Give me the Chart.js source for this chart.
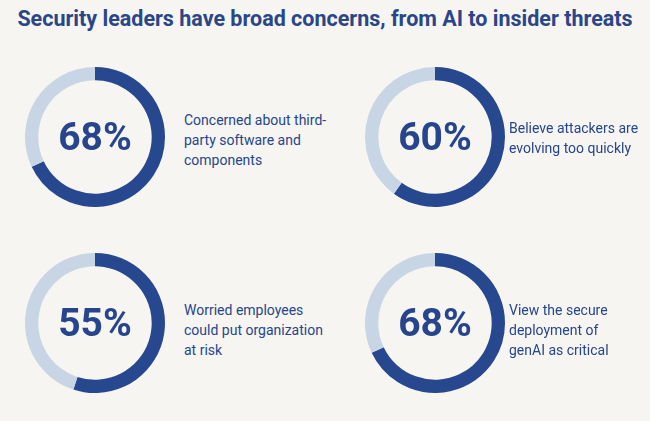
<!DOCTYPE html>
<html><head><meta charset="utf-8">
<script src="https://cdn.jsdelivr.net/npm/chart.js@4/dist/chart.umd.min.js"></script>
<style>
body{margin:0;width:650px;height:421px;background:#f6f5f1;font-family:Roboto,"Open Sans",sans-serif;position:relative;overflow:hidden}
h1{position:absolute;left:0;top:6px;width:650px;text-align:center;margin:0;font-size:21.5px;font-weight:700;color:#2a4688}
.box{position:absolute;width:150px;height:150px}
.pct{position:absolute;left:0;top:0;width:150px;height:150px;line-height:150px;text-align:center;font-size:39px;font-weight:700;color:#27458c;pointer-events:none}
.lab{position:absolute;font-size:14px;line-height:20px;color:#27458c;width:150px}
</style></head><body>
<h1>Security leaders have broad concerns, from AI to insider threats</h1>
<div id="root"></div>
<script>
const values=[68,60,55,68];
const labels=["Concerned about third-party software and components","Believe attackers are evolving too quickly","Worried employees could put organization at risk","View the secure deployment of genAI as critical"];
const labelHtml=["Concerned about third-<br>party software and<br>components","Believe attackers are<br>evolving too quickly","Worried employees<br>could put organization<br>at risk","View the secure<br>deployment of<br>genAI as critical"];
const centers=[[95,137],[435,137],[95,323],[435,323]];
const labelPos=[[184,110],[509,118],[184,300],[509,300]];
const root=document.getElementById('root');
values.forEach((v,i)=>{
  const b=document.createElement('div');b.className='box';
  b.style.left=(centers[i][0]-75)+'px';b.style.top=(centers[i][1]-75)+'px';
  const c=document.createElement('canvas');c.width=150;c.height=150;b.appendChild(c);
  const p=document.createElement('div');p.className='pct';p.textContent=v+'%';b.appendChild(p);
  root.appendChild(b);
  const l=document.createElement('div');l.className='lab';l.innerHTML=labelHtml[i];
  l.style.left=labelPos[i][0]+'px';l.style.top=labelPos[i][1]+'px';root.appendChild(l);
  new Chart(c,{type:'doughnut',data:{labels:['Yes','No'],datasets:[{data:[v,100-v],backgroundColor:['#27478f','#c8d5e4'],borderWidth:0}]},
    options:{responsive:false,animation:false,cutout:'81%',layout:{padding:5},plugins:{legend:{display:false},tooltip:{enabled:false}}}});
});
</script></body></html>
